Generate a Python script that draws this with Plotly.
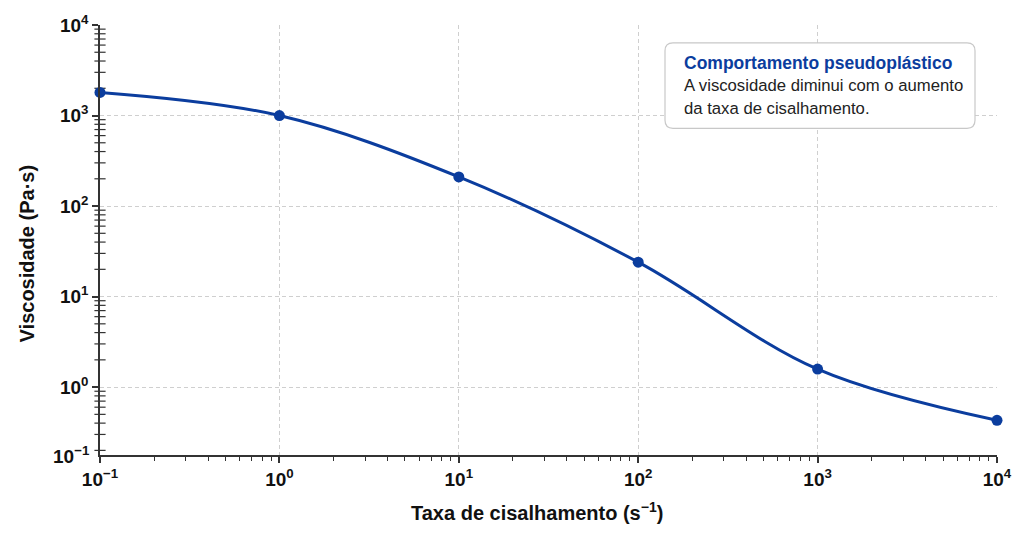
import plotly.graph_objects as go

shear_rate = [0.1, 1, 10, 100, 1000, 10000]
viscosity = [1800, 1000, 210, 24, 1.58, 0.43]

x_tickvals = [0.1, 1, 10, 100, 1000, 10000]
x_ticktext = ["<b>10<sup>−1</sup></b>", "<b>10<sup>0</sup></b>", "<b>10<sup>1</sup></b>",
              "<b>10<sup>2</sup></b>", "<b>10<sup>3</sup></b>", "<b>10<sup>4</sup></b>"]
y_tickvals = [1, 10, 100, 1000, 10000]
y_ticktext = ["<b>10<sup>0</sup></b>", "<b>10<sup>1</sup></b>",
              "<b>10<sup>2</sup></b>", "<b>10<sup>3</sup></b>", "<b>10<sup>4</sup></b>"]
y_bottom_label = "<b>10<sup>−1</sup></b>"

blue = "#0b3d9e"
font = "Liberation Sans, Arial, Helvetica, sans-serif"

# minor tick positions (2..9 within each decade)
x_minor = [m * 10 ** e for e in range(-1, 4) for m in range(2, 10)]
y_minor = [m * 10 ** e for e in range(-1, 4) for m in range(2, 10) if m * 10 ** e > 10 ** -0.75]

fig = go.Figure()

# y minor ticks as short horizontal dash markers sitting on the y axis line
fig.add_trace(go.Scatter(
    x=[x_tickvals[0]] * len(y_minor), y=y_minor, mode="markers",
    marker=dict(symbol="line-ew-open", size=8, color="#333",
                line=dict(color="#333", width=1.2)),
    cliponaxis=False, showlegend=False, hoverinfo="skip",
))

fig.add_trace(go.Scatter(
    x=shear_rate, y=viscosity, mode="lines+markers",
    line=dict(color=blue, width=3, shape="spline", smoothing=1.0),
    marker=dict(color=blue, size=11),
    cliponaxis=False, showlegend=False,
))

axis_common = dict(
    type="log", showline=True, linecolor="#333", linewidth=1.5,
    ticks="outside", ticklen=6, tickcolor="#333", tickwidth=1.5,
    showgrid=True, gridcolor="#cfcfcf", griddash="4px,3px", gridwidth=1,
    zeroline=False, mirror=False,
    tickfont=dict(family=font, size=19, color="#111"),
)

fig.update_xaxes(**axis_common, range=[-1, 4], tickvals=x_tickvals, ticktext=x_ticktext,
                 minor=dict(ticks="outside", ticklen=4, tickcolor="#333", tickwidth=1.2,
                            showgrid=False, tickmode="array", tickvals=x_minor))
fig.update_yaxes(**axis_common, range=[-0.75, 4], tickvals=y_tickvals, ticktext=y_ticktext)

# bottom y label (at the axis corner)
fig.add_annotation(text=y_bottom_label, xref="paper", yref="paper",
                   x=0, y=0, xanchor="right", yanchor="middle", xshift=-8,
                   showarrow=False, font=dict(family=font, size=19, color="#111"))

# axis titles placed as annotations
fig.add_annotation(text="<b>Taxa de cisalhamento (s<sup>−1</sup>)</b>", xref="paper", yref="paper",
                   x=(537 - 100) / 897, y=(455 - 512) / 433, xanchor="center", yanchor="middle",
                   showarrow=False, font=dict(family=font, size=20, color="#111"))
fig.add_annotation(text="<b>Viscosidade (Pa·s)</b>", xref="paper", yref="paper",
                   x=(27 - 100) / 897, y=(455 - 253) / 433, xanchor="center", yanchor="middle",
                   textangle=-90, showarrow=False, font=dict(family=font, size=20, color="#111"))

# rounded annotation box
x0, x1 = (665 - 100) / 897, (975 - 100) / 897
y0, y1 = (455 - 126) / 433, (455 - 40) / 433
rx, ry = 8 / 897, 8 / 433
path = (f"M {x0+rx} {y0} L {x1-rx} {y0} Q {x1} {y0} {x1} {y0+ry} "
        f"L {x1} {y1-ry} Q {x1} {y1} {x1-rx} {y1} L {x0+rx} {y1} "
        f"Q {x0} {y1} {x0} {y1-ry} L {x0} {y0+ry} Q {x0} {y0} {x0+rx} {y0} Z")
fig.add_shape(type="path", path=path, xref="paper", yref="paper",
              line=dict(color="#c8c8c8", width=1.2), fillcolor="white", layer="above")

fig.add_annotation(text="<b>Comportamento pseudoplástico</b>", xref="paper", yref="paper",
                   x=(818 - 100) / 897, y=(455 - 60) / 433, xanchor="center", yanchor="middle",
                   showarrow=False, font=dict(family=font, size=17.5, color="#0b3d9e"))
fig.add_annotation(text="A viscosidade diminui com o aumento", xref="paper", yref="paper",
                   x=(682 - 100) / 897, y=(455 - 83) / 433, xanchor="left", yanchor="middle",
                   showarrow=False, font=dict(family=font, size=16.7, color="#222"))
fig.add_annotation(text="da taxa de cisalhamento.", xref="paper", yref="paper",
                   x=(682 - 100) / 897, y=(455 - 106) / 433, xanchor="left", yanchor="middle",
                   showarrow=False, font=dict(family=font, size=16.7, color="#222"))

fig.update_layout(
    width=1024, height=538,
    margin=dict(l=100, r=27, t=22, b=83),
    paper_bgcolor="white", plot_bgcolor="white",
    font=dict(family=font),
)

fig.write_html("out.html")
